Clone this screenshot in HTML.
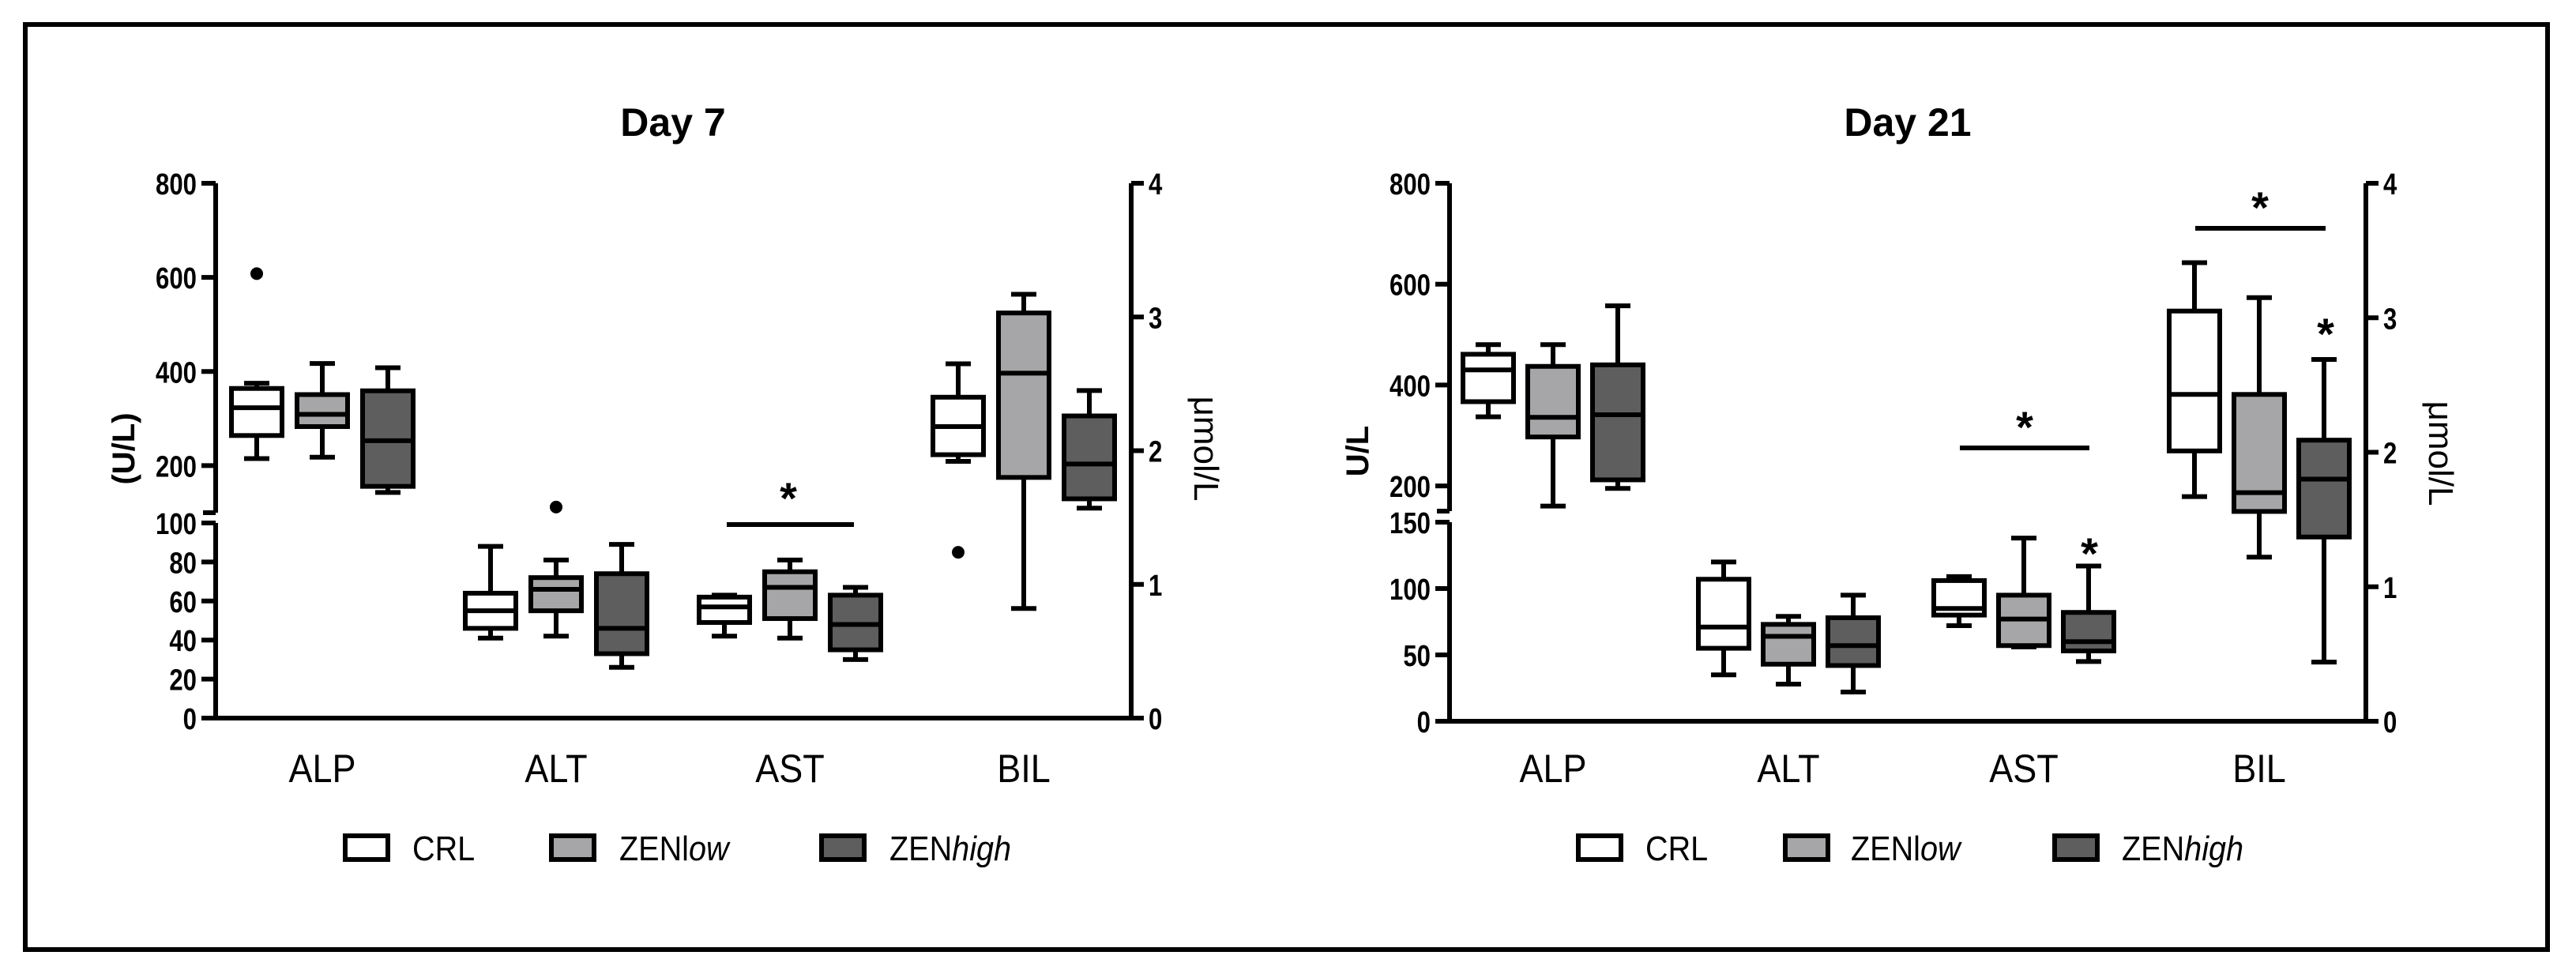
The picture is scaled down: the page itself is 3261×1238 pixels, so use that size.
<!DOCTYPE html>
<html><head><meta charset="utf-8"><style>
html,body{margin:0;padding:0;background:#fff}
svg{display:block}
text{font-family:"Liberation Sans",sans-serif;fill:#000}
</style></head><body>
<svg id="chart" width="3261" height="1238" viewBox="0 0 3261 1238" xmlns="http://www.w3.org/2000/svg">
<rect x="32" y="31" width="3193" height="1171" fill="none" stroke="#000" stroke-width="6"/>
</svg>
<script>
// ---- data ----
const categories = ["ALP","ALT","AST","BIL"];
const groups = ["CRL","ZENlow","ZENhigh"];
const groupFills = ["#ffffff","#a6a6a8","#5e5e5e"];
// [min, q1, median, q3, max] per category per group; BIL on right axis (µmol/L)
const day7CRL    = [[215,264,323,364,375],[41,46,55,64,88],[42,49,57,62,63],[1.92,1.97,2.18,2.40,2.65]];
const day7ZENlow = [[218,283,309,351,417],[42,55,66,72,81],[41,51,67,75,81],[0.82,1.80,2.58,3.03,3.17]];
const day7ZENhigh= [[143,156,253,359,408],[26,33,46,74,89],[30,35,48,63,67],[1.57,1.64,1.90,2.26,2.45]];
const day7Outliers = [[0,0,608],[1,1,112],[3,0,1.24]]; // [category, group, value]
const day21CRL    = [[337,367,430,461,480],[35,55,71,107,120],[72,80,85,106,109],[1.67,2.01,2.43,3.05,3.41]];
const day21ZENlow = [[160,297,336,437,480],[28,43,64,73,79],[56,57,77,95,138],[1.22,1.56,1.70,2.43,3.15]];
const day21ZENhigh= [[195,212,341,440,557],[22,42,57,78,95],[45,53,60,82,117],[0.44,1.37,1.80,2.09,2.69]];
const day21Outliers = [];
const leftTicks7 = [0,20,40,60,80,100,200,400,600,800];
const leftTicks21 = [0,50,100,150,200,400,600,800];
const rightTicks = [0,1,2,3,4];

const svg = document.getElementById('chart');
const NS = 'http://www.w3.org/2000/svg';
function mk(tag, attrs, parent){const e=document.createElementNS(NS,tag);for(const k in attrs)e.setAttribute(k,attrs[k]);(parent||svg).appendChild(e);return e;}

function panel(cfg){
  const g = mk('g',{});
  
  
  const yL = v => v <= cfg.brk ? cfg.y0 - (v/cfg.brk)*(cfg.y0-cfg.lowTop)
                               : cfg.upBot - (v-cfg.upMin)/(cfg.max-cfg.upMin)*(cfg.upBot-cfg.yTop);
  const yR = v => cfg.y0 - v/4*(cfg.y0-cfg.yTop);
  const xC = (i,j) => cfg.cx0 + i*cfg.dx + (j-1)*cfg.off;
  // title
  const t = mk('text',{x:cfg.titleX,y:172,'font-size':50,'font-weight':'bold','text-anchor':'middle'},g);
  t.textContent = cfg.title;
  
  
  // axes
  const la = mk('g',{stroke:'#000','stroke-width':6,fill:'none'},g);
  
  
  mk('path',{d:`M${cfg.xL},${cfg.yTop} V${cfg.upBot} M${cfg.xL},${cfg.lowTop} V${cfg.y0} H${cfg.xR} M${cfg.xL-16},${cfg.upBot} H${cfg.xL} M${cfg.xL-16},${cfg.lowTop} H${cfg.xL}`},la);
  cfg.ticks.forEach(v=>{
    const y=yL(v);
    mk('line',{x1:cfg.xL-18,x2:cfg.xL,y1:y,y2:y},la);
    const tx=mk('text',{x:0,y:0,'font-size':38,'font-weight':'bold','text-anchor':'end',transform:`translate(${cfg.xL-24},${y+14}) scale(0.82,1)`,stroke:'none'},g);
    tx.textContent=v;
    
    
  });
  const ra = mk('g',{stroke:'#000','stroke-width':6,fill:'none'},g);
  
  
  mk('line',{x1:cfg.xR,x2:cfg.xR,y1:cfg.yTop,y2:cfg.y0},ra);
  rightTicks.forEach(v=>{
    const y=yR(v);
    mk('line',{x1:cfg.xR,x2:cfg.xR+16,y1:y,y2:y},ra);
    const tx=mk('text',{x:0,y:0,'font-size':38,'font-weight':'bold',transform:`translate(${cfg.xR+22},${y+14}) scale(0.82,1)`},g);
    tx.textContent=v;
    
    
  });
  // axis titles
  const lt=mk('text',{x:0,y:0,'font-size':40,'font-weight':'bold','text-anchor':'middle',transform:`translate(${cfg.ltX},${cfg.ltY}) rotate(-90)`},g);
  lt.textContent=cfg.leftTitle;
  
  
  const rt=mk('text',{x:0,y:0,'font-size':44,'text-anchor':'middle',transform:`translate(${cfg.rtX},${cfg.rtY}) rotate(90)`},g);
  rt.textContent='\u03bcmol/L';
  
  
  // category labels
  categories.forEach((c,i)=>{
    const tx=mk('text',{x:0,y:0,'font-size':50,'text-anchor':'middle',transform:`translate(${cfg.cx0+i*cfg.dx},${990}) scale(0.9,1)`},g);
    tx.textContent=c;
    
    
  });
  // boxes
  cfg.series.forEach((ser,j)=>{
    ser.forEach((q,i)=>{
      const yf = i===3 ? yR : yL;
      const x=xC(i,j), w=cfg.bw, cw=32;
      const bg=mk('g',{stroke:'#000','stroke-width':6},g);
      
      
      mk('path',{d:`M${x},${yf(q[0])} V${yf(q[4])} M${x-cw/2},${yf(q[0])} H${x+cw/2} M${x-cw/2},${yf(q[4])} H${x+cw/2}`,fill:'none'},bg);
      mk('rect',{x:x-w/2,y:yf(q[3]),width:w,height:yf(q[1])-yf(q[3]),fill:groupFills[j]},bg);
      mk('line',{x1:x-w/2,x2:x+w/2,y1:yf(q[2]),y2:yf(q[2])},bg);
    });
  });
  cfg.outliers.forEach(o=>{
    const yf = o[0]===3 ? yR : yL;
    const c=mk('circle',{cx:xC(o[0],o[1]),cy:yf(o[2]),r:8,fill:'#000'},g);
    
    
  });
  cfg.sig.forEach(s=>{
    if(s.line){
      const l=mk('line',{x1:s.x1,x2:s.x2,y1:s.y,y2:s.y,stroke:'#000','stroke-width':6},g);
      
      
    }
    const st=mk('text',{x:s.sx,y:s.sy,'font-size':56,'font-weight':'bold','text-anchor':'middle'},g);
    st.textContent='*';
    
    
  });
  // legend
  const lg=mk('g',{},g);
  
  
  groups.forEach((gn,j)=>{
    const r=mk('rect',{x:cfg.legBox[j],y:1058,width:54,height:30,fill:groupFills[j],stroke:'#000','stroke-width':6},lg);
    
    
    const tx=mk('text',{x:0,y:0,'font-size':44,transform:`translate(${cfg.legText[j]},${1089}) scale(0.9,1)`},lg);
    
    
    if(j===0){tx.textContent='CRL';}
    else{
      const a=mk('tspan',{},tx);a.textContent='ZEN';
      const b=mk('tspan',{'font-style':'italic'},tx);b.textContent=j===1?'low':'high';
      if(j===1){a.textContent='ZENl';b.textContent='ow';}
    }
  });
}

panel({name:'day7-panel',title:'Day 7',titleX:852,xL:273,xR:1432,yTop:232,y0:909,brk:100,lowTop:662,upBot:649,upMin:100,max:800,
  ticks:leftTicks7,leftTitle:'(U/L)',ltX:170,ltY:568,rtX:1512,rtY:568,
  cx0:408,dx:296,off:83,bw:64,series:[day7CRL,day7ZENlow,day7ZENhigh],outliers:day7Outliers,
  sig:[{line:true,x1:920,x2:1081,y:664,sx:998,sy:650}],
  legBox:[437,698,1040],legText:[522,784,1126]});
panel({name:'day21-panel',title:'Day 21',titleX:2415,xL:1835,xR:2995,yTop:232,y0:913,brk:150,lowTop:661,upBot:647,upMin:150,max:800,
  ticks:leftTicks21,leftTitle:'U/L',ltX:1732,ltY:571,rtX:3075,rtY:574,
  cx0:1966,dx:298,off:82,bw:64,series:[day21CRL,day21ZENlow,day21ZENhigh],outliers:day21Outliers,
  sig:[{line:true,x1:2481,x2:2645,y:567,sx:2563,sy:560},{line:false,sx:2645,sy:720},{line:true,x1:2779,x2:2944,y:289,sx:2861,sy:282},{line:false,sx:2944,sy:442}],
  legBox:[1998,2260,2601],legText:[2083,2343,2686]});
</script>
</body></html>
